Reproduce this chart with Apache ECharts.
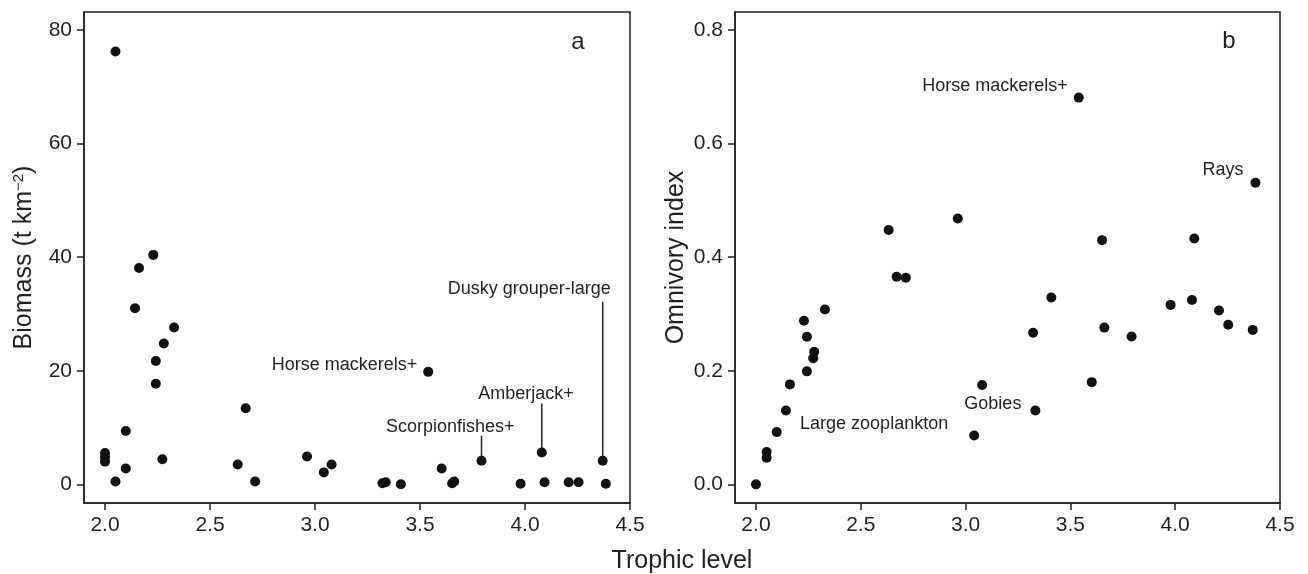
<!DOCTYPE html>
<html>
<head>
<meta charset="utf-8">
<script src="https://cdn.jsdelivr.net/npm/echarts@6/dist/echarts.min.js"></script>
<style>
html,body{margin:0;padding:0;background:#fff;}
#chart{width:1308px;height:574px;}
</style>
</head>
<body>
<div id="chart"></div>
<script>
// ---------- DATA ----------
// Panel a: trophic level vs biomass (t km^-2)
const leftTL = [2.05, 2.162, 2.23, 2.143, 2.329, 2.28, 2.242, 2.242, 2.67, 2.099, 2.0, 2.0, 2.0, 2.273, 2.099, 2.05, 2.632, 2.715, 2.962, 3.042, 3.079, 3.539, 3.321, 3.337, 3.409, 3.603, 3.653, 3.663, 3.793, 3.979, 4.08, 4.093, 4.208, 4.255, 4.37, 4.385];
const leftBiomass = [76.2, 38.1, 40.4, 31.0, 27.6, 24.8, 21.7, 17.7, 13.4, 9.4, 5.5, 4.8, 4.0, 4.4, 2.8, 0.5, 3.5, 0.5, 4.9, 2.1, 3.5, 19.8, 0.2, 0.35, 0.0, 2.8, 0.2, 0.5, 4.15, 0.1, 5.6, 0.35, 0.35, 0.35, 4.15, 0.1];
const leftLabelNames = ['Horse mackerels+', 'Scorpionfishes+', 'Amberjack+', 'Dusky grouper-large'];
const leftLabelIdx = [21, 28, 30, 34];

// Panel b: trophic level vs omnivory index
const rightTL = [2.0, 2.051, 2.051, 2.099, 2.143, 2.162, 2.229, 2.243, 2.243, 2.273, 2.278, 2.329, 2.633, 2.671, 2.715, 2.963, 3.041, 3.079, 3.322, 3.333, 3.409, 3.54, 3.602, 3.651, 3.662, 3.792, 3.978, 4.08, 4.091, 4.209, 4.253, 4.37, 4.383];
const rightOI = [0.0, 0.057, 0.047, 0.092, 0.130, 0.176, 0.288, 0.260, 0.199, 0.222, 0.2335, 0.308, 0.448, 0.3655, 0.3637, 0.468, 0.086, 0.175, 0.267, 0.130, 0.329, 0.681, 0.180, 0.430, 0.276, 0.2605, 0.316, 0.3245, 0.433, 0.306, 0.281, 0.272, 0.531];
const rightLabelNames = ['Horse mackerels+', 'Rays', 'Gobies', 'Large zooplankton'];
const rightLabelIdx = [21, 32, 19, 16];

// Tick values / labels
const xTicks = [2.0, 2.5, 3.0, 3.5, 4.0, 4.5];
const xTickLabels = ['2.0', '2.5', '3.0', '3.5', '4.0', '4.5'];
const leftYTicks = [0, 20, 40, 60, 80];
const leftYTickLabels = ['0', '20', '40', '60', '80'];
const rightYTicks = [0.0, 0.2, 0.4, 0.6, 0.8];
const rightYTickLabels = ['0.0', '0.2', '0.4', '0.6', '0.8'];

// ---------- STYLE (pixel offsets of annotations relative to their point) ----------
const leftAnnStyle = [
  {dx: -11, dy: -7, line: 0},
  {dx: 33, dy: -34, line: 25},
  {dx: 32, dy: -58, line: 49},
  {dx: 8, dy: -172, line: 159}
];
const rightAnnStyle = [
  {dx: -11, dy: -12, line: 0},
  {dx: -12, dy: -13, line: 0},
  {dx: -14, dy: -7, line: 0},
  {dx: -26, dy: -11, line: 0}
];

const FONT = "'Liberation Sans', Arial, Helvetica, sans-serif";
const INK = '#231f20';

function pairs(xs, ys) { return xs.map((x, i) => [x, ys[i]]); }
function annData(names, idx, xs, ys) { return names.map((n, k) => [xs[idx[k]], ys[idx[k]], k]); }

function annRenderer(names, styles) {
  return function (params, api) {
    const p = api.coord([api.value(0), api.value(1)]);
    const k = api.value(2);
    const s = styles[k];
    const children = [];
    if (s.line > 0) {
      children.push({
        type: 'line',
        shape: {x1: p[0], y1: p[1] - 4, x2: p[0], y2: p[1] - s.line},
        style: {stroke: INK, lineWidth: 1.5}
      });
    }
    children.push({
      type: 'text',
      style: {
        text: names[k], x: p[0] + s.dx, y: p[1] + s.dy,
        align: 'right', verticalAlign: 'middle',
        font: '18px ' + FONT, fill: INK
      }
    });
    return {type: 'group', children: children};
  };
}

function xAxisCfg(gi) {
  return {
    type: 'value', gridIndex: gi, min: 1.9, max: 4.5,
    axisLine: {show: true, onZero: false, lineStyle: {color: INK, width: 1.5}},
    axisTick: {show: true, customValues: xTicks, length: 7, lineStyle: {color: INK, width: 1.5}},
    axisLabel: {customValues: xTicks, formatter: v => xTickLabels[xTicks.findIndex(t => Math.abs(t - v) < 1e-6)],
                fontSize: 21, fontFamily: FONT, color: INK, margin: 12},
    splitLine: {show: false}
  };
}
function yAxisCfg(gi, min, max, ticks, labels, name) {
  return {
    type: 'value', gridIndex: gi, min: min, max: max,
    name: name, nameLocation: 'middle', nameGap: 46,
    nameTextStyle: {fontSize: 25, fontFamily: FONT, color: INK,
      rich: {sup: {fontSize: 15, fontFamily: FONT, color: INK, verticalAlign: 'top', padding: [0, 0, 12, 0]}}},
    axisLine: {show: true, onZero: false, lineStyle: {color: INK, width: 1.5}},
    axisTick: {show: true, customValues: ticks, length: 7, lineStyle: {color: INK, width: 1.5}},
    axisLabel: {customValues: ticks, formatter: v => labels[ticks.findIndex(t => Math.abs(t - v) < 1e-6)],
                fontSize: 21, fontFamily: FONT, color: INK, margin: 12},
    splitLine: {show: false}
  };
}

const chart = echarts.init(document.getElementById('chart'), null, {renderer: 'canvas'});
chart.setOption({
  animation: false,
  backgroundColor: '#fff',
  grid: [
    {left: 84, top: 12, width: 546, height: 491, show: true, borderColor: INK, borderWidth: 1.5, backgroundColor: 'transparent'},
    {left: 735, top: 12, width: 545, height: 491, show: true, borderColor: INK, borderWidth: 1.5, backgroundColor: 'transparent'}
  ],
  xAxis: [xAxisCfg(0), xAxisCfg(1)],
  yAxis: [
    yAxisCfg(0, -3.29, 83.17, leftYTicks, leftYTickLabels, 'Biomass (t km{sup|−2})'),
    yAxisCfg(1, -0.0328, 0.8317, rightYTicks, rightYTickLabels, 'Omnivory index')
  ],
  graphic: [
    {type: 'text', x: 682, y: 561, style: {text: 'Trophic level', font: '25px ' + FONT, fill: INK, align: 'center', verticalAlign: 'middle'}},
    {type: 'text', x: 578, y: 42, style: {text: 'a', font: '24px ' + FONT, fill: INK, align: 'center', verticalAlign: 'middle'}},
    {type: 'text', x: 1229, y: 41, style: {text: 'b', font: '24px ' + FONT, fill: INK, align: 'center', verticalAlign: 'middle'}}
  ],
  series: [
    {type: 'scatter', xAxisIndex: 0, yAxisIndex: 0, data: pairs(leftTL, leftBiomass),
     symbol: 'circle', symbolSize: 10, itemStyle: {color: '#111', opacity: 1}, silent: true},
    {type: 'scatter', xAxisIndex: 1, yAxisIndex: 1, data: pairs(rightTL, rightOI),
     symbol: 'circle', symbolSize: 10, itemStyle: {color: '#111', opacity: 1}, silent: true},
    {type: 'custom', xAxisIndex: 0, yAxisIndex: 0, clip: false, silent: true,
     data: annData(leftLabelNames, leftLabelIdx, leftTL, leftBiomass),
     renderItem: annRenderer(leftLabelNames, leftAnnStyle)},
    {type: 'custom', xAxisIndex: 1, yAxisIndex: 1, clip: false, silent: true,
     data: annData(rightLabelNames, rightLabelIdx, rightTL, rightOI),
     renderItem: annRenderer(rightLabelNames, rightAnnStyle)}
  ]
});
</script>
</body>
</html>
